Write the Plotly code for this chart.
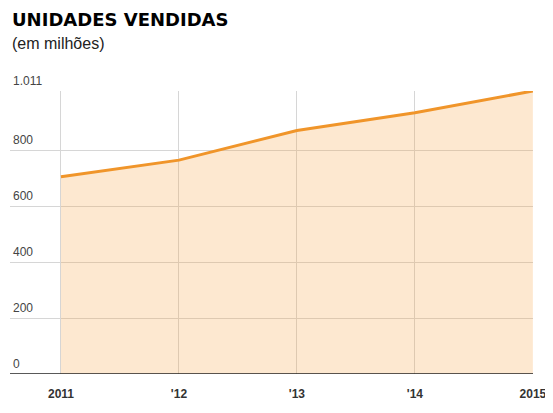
import plotly.graph_objects as go

# dados
anos = [2011, 2012, 2013, 2014, 2015]
rotulos_anos = ["2011", "'12", "'13", "'14", "2015"]
unidades = [705, 764, 870, 933, 1011]
ticks_y = [0, 200, 400, 600, 800, 1011]
rotulos_y = ["0", "200", "400", "600", "800", "1.011"]

LARANJA = "#F0952A"
FONTE = "Liberation Sans, Arial, sans-serif"

fig = go.Figure()
fig.add_trace(go.Scatter(
    x=anos, y=unidades,
    mode="lines",
    line=dict(color=LARANJA, width=3),
    fill="tozeroy",
    fillcolor="rgba(248,160,60,0.24)",
    hoverinfo="x+y",
    showlegend=False,
))

# rótulos do eixo y acima das linhas de grade, à esquerda
notas = [
    dict(text=txt, xref="paper", yref="y", x=0, y=v, xanchor="left",
         yanchor="middle", xshift=1, yshift=10, showarrow=False,
         font=dict(size=12, color="#444", family=FONTE))
    for v, txt in zip(ticks_y, rotulos_y)
]
notas += [
    dict(text="UNIDADES VENDIDAS", xref="paper", yref="paper",
         x=0, y=1, yshift=72, xanchor="left", yanchor="middle",
         showarrow=False,
         font=dict(size=18, color="#000", family="DejaVu Sans", weight="bold")),
    dict(text="(em milhões)", xref="paper", yref="paper",
         x=0, y=1, yshift=48, xanchor="left", yanchor="middle",
         showarrow=False, font=dict(size=16, color="#222", family=FONTE)),
]

fig.update_layout(
    width=545, height=397,
    margin=dict(l=2, r=20, t=83, b=31),
    plot_bgcolor="white", paper_bgcolor="white",
    font=dict(family=FONTE, color="#333"),
    xaxis=dict(
        range=[2010.568, 2015.001],
        tickvals=anos, ticktext=rotulos_anos,
        tickfont=dict(size=12, color="#333", family=FONTE, weight="bold"),
        ticklabelstandoff=11, ticklabeloverflow="allow",
        showgrid=True, gridcolor="#d6d6d6", gridwidth=1,
        zeroline=False, showline=False, ticks="",
    ),
    yaxis=dict(
        range=[0, 1011],
        tickvals=ticks_y, showticklabels=False,
        showgrid=True, gridcolor="#d6d6d6", gridwidth=1,
        zeroline=False, showline=False, ticks="",
    ),
    shapes=[dict(type="line", xref="paper", yref="y", x0=0, x1=1, y0=0, y1=0,
                 line=dict(color="#222", width=1.5))],
    annotations=notas,
)

fig.write_html("out.html")
